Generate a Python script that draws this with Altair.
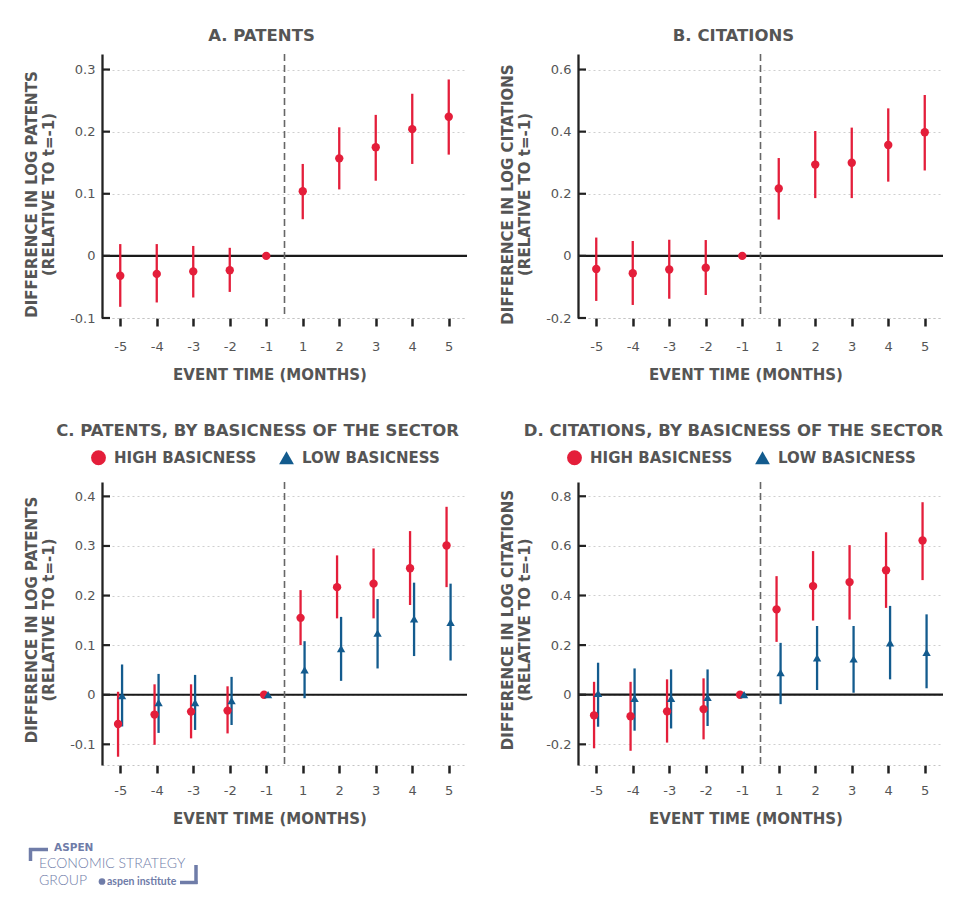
import altair as alt
import pandas as pd

EVENT_TIME = [-5, -4, -3, -2, -1, 1, 2, 3, 4, 5]

A_EST = [-0.032, -0.029, -0.025, -0.023, 0.0, 0.104, 0.157, 0.175, 0.204, 0.224]
A_LO = [-0.082, -0.075, -0.067, -0.058, 0.0, 0.059, 0.107, 0.121, 0.148, 0.163]
A_HI = [0.019, 0.019, 0.016, 0.013, 0.0, 0.148, 0.207, 0.227, 0.261, 0.284]

B_EST = [-0.042, -0.056, -0.044, -0.038, 0.0, 0.217, 0.294, 0.300, 0.357, 0.398]
B_LO = [-0.145, -0.158, -0.138, -0.126, 0.0, 0.117, 0.186, 0.186, 0.239, 0.275]
B_HI = [0.059, 0.048, 0.052, 0.051, 0.0, 0.315, 0.402, 0.413, 0.475, 0.518]

C_HIGH_EST = [-0.059, -0.040, -0.034, -0.032, 0.0, 0.155, 0.217, 0.224, 0.255, 0.301]
C_HIGH_LO = [-0.125, -0.101, -0.088, -0.078, 0.0, 0.100, 0.154, 0.154, 0.181, 0.217]
C_HIGH_HI = [0.006, 0.021, 0.021, 0.017, 0.0, 0.211, 0.281, 0.295, 0.330, 0.379]
C_LOW_EST = [-0.002, -0.016, -0.016, -0.012, 0.0, 0.050, 0.093, 0.124, 0.153, 0.146]
C_LOW_LO = [-0.064, -0.077, -0.071, -0.061, 0.0, -0.007, 0.028, 0.053, 0.078, 0.069]
C_LOW_HI = [0.061, 0.042, 0.040, 0.036, 0.0, 0.108, 0.157, 0.193, 0.226, 0.224]

D_HIGH_EST = [-0.083, -0.087, -0.067, -0.058, 0.0, 0.344, 0.438, 0.454, 0.502, 0.622]
D_HIGH_LO = [-0.216, -0.226, -0.193, -0.180, 0.0, 0.213, 0.299, 0.303, 0.350, 0.462]
D_HIGH_HI = [0.052, 0.052, 0.062, 0.066, 0.0, 0.478, 0.579, 0.603, 0.655, 0.776]
D_LOW_EST = [0.005, -0.015, -0.015, -0.011, 0.0, 0.089, 0.149, 0.144, 0.209, 0.171]
D_LOW_LO = [-0.129, -0.145, -0.136, -0.126, 0.0, -0.038, 0.019, 0.008, 0.062, 0.026]
D_LOW_HI = [0.129, 0.106, 0.102, 0.102, 0.0, 0.209, 0.277, 0.277, 0.358, 0.324]

GROUPS = ["HIGH BASICNESS", "LOW BASICNESS"]
TITLES = ["A. PATENTS", "B. CITATIONS",
          "C. PATENTS, BY BASICNESS OF THE SECTOR",
          "D. CITATIONS, BY BASICNESS OF THE SECTOR"]
Y_TITLES_PAT = ["DIFFERENCE IN LOG PATENTS", "(RELATIVE TO t=-1)"]
Y_TITLES_CIT = ["DIFFERENCE IN LOG CITATIONS", "(RELATIVE TO t=-1)"]
X_TITLE = "EVENT TIME (MONTHS)"
Y_TICKS_A = [-0.1, 0, 0.1, 0.2, 0.3]
Y_TICKS_B = [-0.2, 0, 0.2, 0.4, 0.6]
Y_TICKS_C = [-0.1, 0, 0.1, 0.2, 0.3, 0.4]
Y_TICKS_D = [-0.2, 0, 0.2, 0.4, 0.6, 0.8]
LOGO_TEXT = ["ASPEN", "ECONOMIC STRATEGY", "GROUP", "aspen institute"]

RED = "#E41E3A"
BLUE = "#135B8E"
GREY = "#555555"
DARK = "#222222"
LOGO = "#6f7ca8"
FONT = "DejaVu Sans"

W = 365
H_TOP = 264
H_BOT = 283

label_expr = "[" + ",".join("'%d'" % t for t in EVENT_TIME) + "][datum.value]"


def make_df(est, lo, hi, group):
    return pd.DataFrame({
        "pos": list(range(len(EVENT_TIME))),
        "t": EVENT_TIME,
        "est": est, "lo": lo, "hi": hi,
        "group": group,
    })


def panel(frames, title, title_dx, title_off, ytitle, domain, yticks, height,
          title_y_shift, grouped, label_pad, extra=None):
    x_scale = alt.Scale(domain=[-0.5, 9.5], nice=False, zero=False)
    x_axis = alt.Axis(values=list(range(10)), labelExpr=label_expr, title=X_TITLE,
                      grid=False, domain=True, domainColor="#c4c4c4", domainDash=[2, 3],
                      domainWidth=1.2, ticks=True, tickColor=DARK, tickWidth=2.5,
                      tickSize=8, labelPadding=label_pad, labelFont=FONT, labelFontSize=13,
                      labelColor=GREY, titleFont=FONT, titleFontSize=15,
                      titleFontWeight="bold", titleColor=GREY, titlePadding=14,
                      titleX=W / 2 - 15)
    y_scale = alt.Scale(domain=domain, nice=False, zero=False)
    y_axis = alt.Axis(values=yticks, labelExpr="toString(datum.value)", title=ytitle,
                      grid=True, gridDash=[2, 3], gridColor="#cfcfcf", gridWidth=1.2,
                      ticks=False, domain=True, domainColor=DARK, domainWidth=2.3,
                      labelPadding=7, labelFont=FONT, labelFontSize=13, labelColor=GREY,
                      titleFont=FONT, titleFontSize=15, titleFontWeight="bold",
                      titleColor=GREY, titlePadding=13, titleLineHeight=17,
                      titleY=height / 2 + title_y_shift)

    data = pd.concat(frames, ignore_index=True)
    base = alt.Chart(data).transform_calculate(
        xp="datum.pos + (datum.group == 'LOW BASICNESS' ? 0.05 : (datum.group == 'HIGH BASICNESS' ? -0.06 : 0))"
    )
    xenc = alt.X("xp:Q", scale=x_scale, axis=x_axis)

    if grouped:
        color_scale = alt.Scale(domain=GROUPS, range=[RED, BLUE])
        shape_scale = alt.Scale(domain=GROUPS, range=["circle", "triangle-up"])
        legend = alt.Legend(orient="none", legendX=-11, legendY=-32, direction="horizontal",
                            title=None, symbolSize=220, symbolStrokeWidth=0,
                            symbolOpacity=1, labelFont=FONT, labelFontSize=15,
                            labelFontWeight="bold", labelColor=GREY, labelOffset=8,
                            columnPadding=22)
        bars = base.mark_rule(strokeWidth=2.3).encode(
            x=xenc,
            y=alt.Y("lo:Q", scale=y_scale, axis=y_axis),
            y2="hi:Q",
            color=alt.Color("group:N", scale=color_scale, legend=None),
        )
        pts = base.mark_point(filled=True, opacity=1, size=70).encode(
            x=xenc,
            y=alt.Y("est:Q", scale=y_scale, axis=y_axis),
            color=alt.Color("group:N", scale=color_scale, legend=legend),
            shape=alt.Shape("group:N", scale=shape_scale, legend=legend),
        )
    else:
        bars = base.mark_rule(strokeWidth=2.3, color=RED).encode(
            x=xenc,
            y=alt.Y("lo:Q", scale=y_scale, axis=y_axis),
            y2="hi:Q",
        )
        pts = base.mark_point(filled=True, opacity=1, size=70, color=RED, shape="circle").encode(
            x=xenc,
            y=alt.Y("est:Q", scale=y_scale, axis=y_axis),
        )

    zero = alt.Chart(pd.DataFrame({"z": [0]})).mark_rule(color="#1a1a1a", strokeWidth=2.2).encode(
        y=alt.Y("z:Q", scale=y_scale, axis=y_axis))
    vline = alt.Chart(pd.DataFrame({"v": [4.5]})).mark_rule(
        color="#666666", strokeWidth=1.6, strokeDash=[7, 4]).encode(
        x=alt.X("v:Q", scale=x_scale, axis=x_axis))
    yt = alt.Chart(pd.DataFrame({"v": yticks})).mark_rule(color=DARK, strokeWidth=2.2).encode(
        y=alt.Y("v:Q", scale=y_scale, axis=y_axis), x=alt.value(0), x2=alt.value(8))

    layers = [zero, vline, yt, bars, pts]
    if extra:
        layers += extra
    ch = alt.layer(*layers).properties(
        width=W, height=height,
        title=alt.TitleParams(text=title, anchor="middle", frame="group", dx=title_dx,
                              offset=title_off, baseline="alphabetic", font=FONT,
                              fontSize=16.5, fontWeight="bold", color=GREY),
    )
    if grouped:
        ch = ch.resolve_scale(color="independent", shape="independent")
    return ch


one = pd.DataFrame({"k": [0]})

# logo (positions relative to panel C plot origin)
logo = [
    alt.Chart(one).mark_rule(color=LOGO, strokeWidth=3.5).encode(
        x=alt.value(-73), x2=alt.value(-54), y=alt.value(367.5)),
    alt.Chart(one).mark_rule(color=LOGO, strokeWidth=3.5).encode(
        x=alt.value(-71.5), y=alt.value(366), y2=alt.value(379)),
    alt.Chart(one).mark_rule(color=LOGO, strokeWidth=3.5).encode(
        x=alt.value(94), y=alt.value(383), y2=alt.value(402)),
    alt.Chart(one).mark_rule(color=LOGO, strokeWidth=3.5).encode(
        x=alt.value(78), x2=alt.value(95.5), y=alt.value(400.5)),
    alt.Chart(one).mark_text(align="left", baseline="middle", font=FONT, fontSize=10.5,
                             fontWeight="bold", color=LOGO).encode(
        x=alt.value(-48), y=alt.value(365.5), text=alt.value(LOGO_TEXT[0])),
    alt.Chart(one).mark_text(align="left", baseline="middle", font="Lato", fontSize=14,
                             fontWeight=300, color=LOGO).encode(
        x=alt.value(-63), y=alt.value(382), text=alt.value(LOGO_TEXT[1])),
    alt.Chart(one).mark_text(align="left", baseline="middle", font="Lato", fontSize=14,
                             fontWeight=300, color=LOGO).encode(
        x=alt.value(-63), y=alt.value(399), text=alt.value(LOGO_TEXT[2])),
    alt.Chart(one).mark_point(shape="circle", filled=True, opacity=1, size=45, color=LOGO).encode(
        x=alt.value(0), y=alt.value(399.5)),
    alt.Chart(one).mark_text(align="left", baseline="middle", font="Lato", fontSize=10.5,
                             fontWeight="bold", color=LOGO).encode(
        x=alt.value(5), y=alt.value(400), text=alt.value(LOGO_TEXT[3])),
]

pa = panel([make_df(A_EST, A_LO, A_HI, "ALL")], TITLES[0], -23, -4, Y_TITLES_PAT,
           [-0.1, 0.325], Y_TICKS_A, H_TOP, 8, False, 14)
pb = panel([make_df(B_EST, B_LO, B_HI, "ALL")], TITLES[1], -27, -4, Y_TITLES_CIT,
           [-0.2, 0.65], Y_TICKS_B, H_TOP, 8, False, 14)
pc = panel([make_df(C_HIGH_EST, C_HIGH_LO, C_HIGH_HI, GROUPS[0]),
            make_df(C_LOW_EST, C_LOW_LO, C_LOW_HI, GROUPS[1])],
           TITLES[2], -27, -2, Y_TITLES_PAT, [-0.1417, 0.429], Y_TICKS_C, H_BOT, -4, True,
           11, extra=logo)
pd_ = panel([make_df(D_HIGH_EST, D_HIGH_LO, D_HIGH_HI, GROUPS[0]),
             make_df(D_LOW_EST, D_LOW_LO, D_LOW_HI, GROUPS[1])],
            TITLES[3], -27, -2, Y_TITLES_CIT, [-0.2833, 0.8575], Y_TICKS_D, H_BOT, -4, True,
            11)

top = alt.hconcat(pa, pb, spacing=31)
bottom = alt.hconcat(pc, pd_, spacing=31).resolve_scale(
    color="independent", shape="independent").resolve_legend(
    color="independent", shape="independent")

chart = alt.vconcat(top, bottom, spacing=40).resolve_scale(
    color="independent", shape="independent").resolve_legend(
    color="independent", shape="independent").properties(
    padding={"left": 16, "top": 19, "right": 5, "bottom": 5}, background="white"
).configure_view(stroke=None)

chart.save("out.html", embed_options={"renderer": "svg", "actions": False})
